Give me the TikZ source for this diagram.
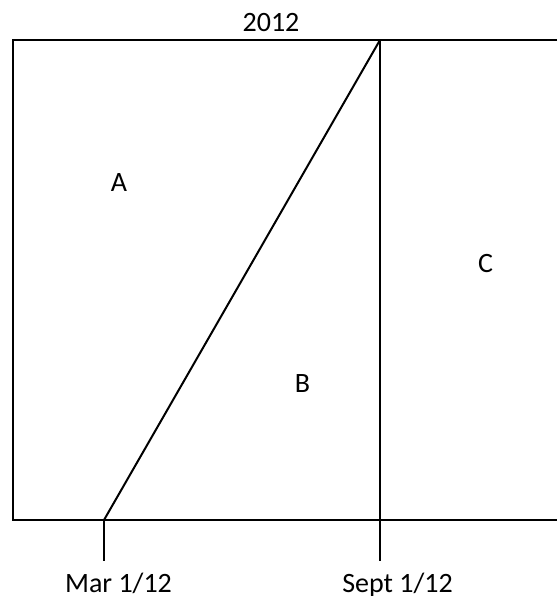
\documentclass[tikz,border=0pt]{standalone}
\usepackage{fontspec}
\setmainfont{Carlito}
\begin{document}
\begin{tikzpicture}[x=1pt,y=-1pt,
  lbl/.style={anchor=base,inner sep=0pt,font=\fontsize{28}{30}\selectfont},
  ln/.style={line width=2pt,black}]
\useasboundingbox (0,0) rectangle (557,596);
\coordinate (tl) at (13,40);
\coordinate (tr) at (557,40);
\coordinate (bl) at (13,520);
\coordinate (br) at (557,520);
\coordinate (mar) at (104,520);
\coordinate (martick) at (104,561);
\coordinate (sepTop) at (380,40);
\coordinate (sepTick) at (380,561);
\draw[ln] (tr) -- (tl) -- (bl) -- (br);
\draw[ln] (mar) -- (sepTop);
\draw[ln] (sepTop) -- (sepTick);
\draw[ln] (mar) -- (martick);
\node[lbl] (y2012) at (271,32) {2012};
\node[lbl] (A) at (119,191) {A};
\node[lbl] (B) at (302.5,392) {B};
\node[lbl] (C) at (485.5,272) {C};
\node[lbl] (marl) at (118.5,592) {Mar 1/12};
\node[lbl] (sepl) at (397.5,592) {Sept 1/12};
\end{tikzpicture}
\end{document}
